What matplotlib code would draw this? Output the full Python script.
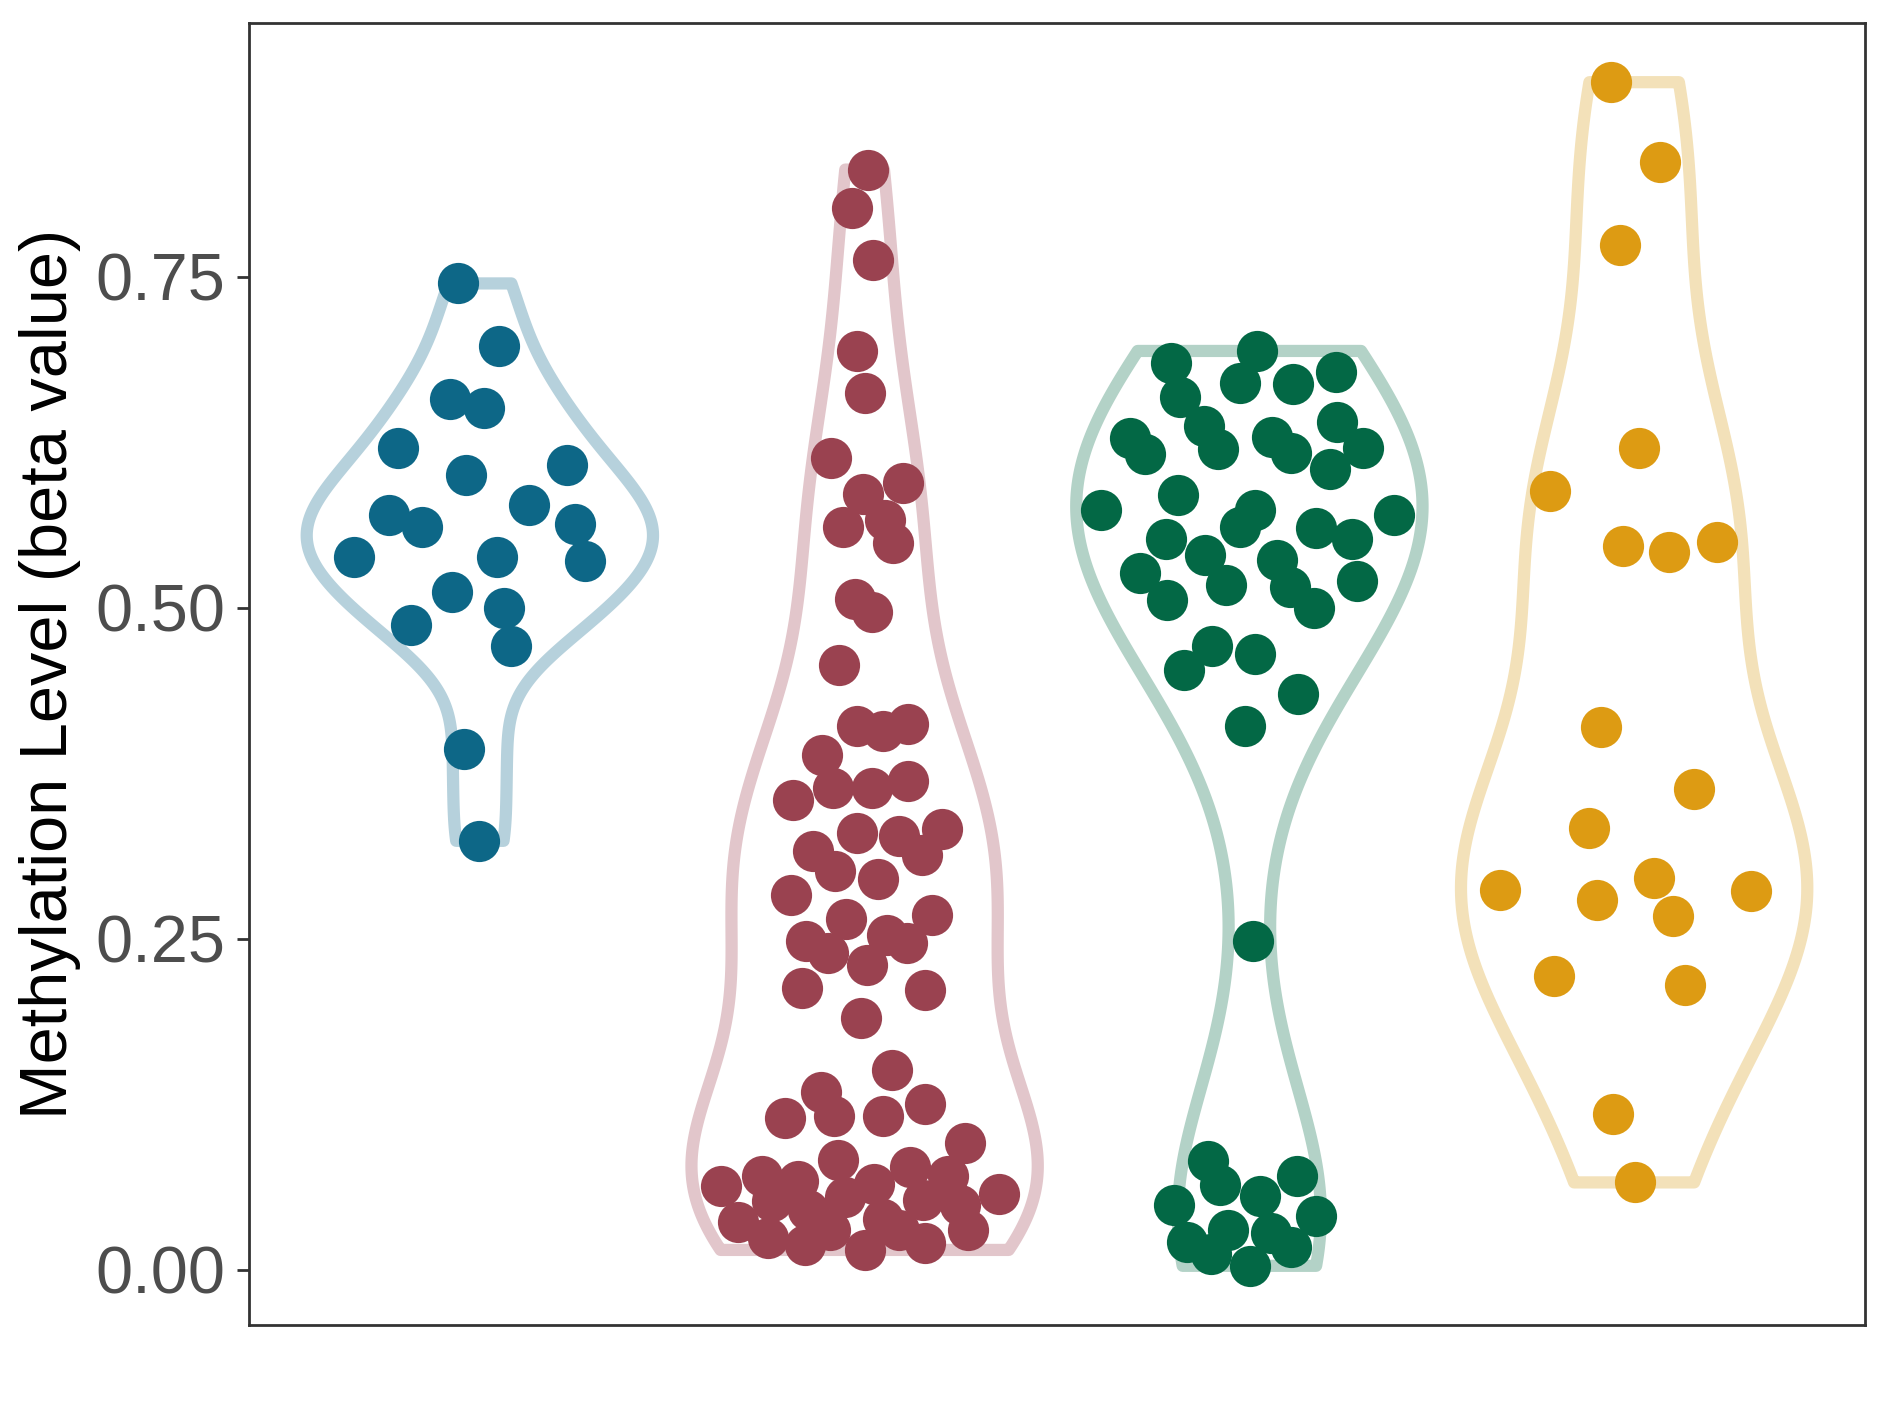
import numpy as np
import matplotlib
matplotlib.use("Agg")
import matplotlib.pyplot as plt

plt.rcParams['font.family'] = ['Liberation Sans', 'DejaVu Sans']

# ---- data (beta values) ----
group_positions = [1, 2, 3, 4]

blue_values = [0.745, 0.698, 0.658, 0.651, 0.621, 0.608, 0.600, 0.578, 0.570, 0.561,
               0.563, 0.538, 0.538, 0.535, 0.512, 0.500, 0.487, 0.471, 0.393, 0.324]
blue_jitter = [-0.057, 0.051, -0.078, 0.010, -0.212, 0.226, -0.036, 0.129, -0.236, -0.150,
               0.246, -0.326, 0.045, 0.272, -0.073, 0.064, -0.178, 0.081, -0.040, -0.001]

red_values = [0.831, 0.802, 0.763, 0.694, 0.662, 0.613, 0.594, 0.586, 0.561, 0.566,
              0.549, 0.507, 0.497, 0.457,
              0.411, 0.407, 0.412, 0.389, 0.364, 0.364, 0.369, 0.355, 0.330, 0.328,
              0.333, 0.316, 0.313, 0.301, 0.295, 0.283, 0.265, 0.268, 0.248, 0.239,
              0.253, 0.247, 0.230, 0.213, 0.211, 0.190, 0.151, 0.134, 0.115, 0.116,
              0.116, 0.125, 0.096, 0.083, 0.078, 0.071, 0.067, 0.065, 0.071, 0.063,
              0.057, 0.055, 0.052, 0.053, 0.049, 0.045, 0.036, 0.030, 0.038, 0.024,
              0.030, 0.030, 0.019, 0.015, 0.020]
red_jitter = [0.010, -0.033, 0.021, -0.021, 0.000, -0.087, 0.099, -0.004, -0.057, 0.052,
              0.075, -0.025, 0.018, -0.067,
              -0.021, 0.048, 0.113, -0.111, -0.081, 0.018, 0.113, -0.187, -0.021, 0.089,
              0.200, -0.135, 0.148, -0.078, 0.035, -0.192, -0.049, 0.175, -0.153, -0.095,
              0.058, 0.111, 0.006, -0.164, 0.156, -0.009, 0.072, -0.114, -0.208, -0.079,
              0.047, 0.156, 0.261, -0.068, 0.118, -0.266, -0.174, 0.025, 0.217, -0.373,
              0.350, -0.051, -0.242, 0.152, 0.248, -0.147, -0.330, -0.089, 0.047, -0.251,
              0.089, 0.269, -0.155, 0.000, 0.156]

green_values = [0.694, 0.685, 0.670, 0.669, 0.678, 0.659, 0.637, 0.640, 0.628, 0.629,
                0.616, 0.620, 0.617, 0.621, 0.605, 0.585, 0.574, 0.574, 0.561, 0.570,
                0.560, 0.552, 0.552, 0.540, 0.536, 0.526, 0.516, 0.517, 0.520, 0.506,
                0.500, 0.471, 0.453, 0.465, 0.435, 0.411,
                0.248, 0.082, 0.064, 0.071, 0.049, 0.056, 0.041, 0.030, 0.021, 0.028,
                0.017, 0.012, 0.003]
green_jitter = [0.020, -0.204, -0.024, 0.113, 0.226, -0.180, -0.119, 0.229, -0.310, 0.058,
                -0.272, -0.082, 0.108, 0.295, 0.209, -0.186, -0.386, 0.014, -0.024, 0.375,
                0.174, -0.217, 0.268, -0.116, 0.071, -0.284, 0.105, -0.062, 0.279, -0.214,
                0.168, -0.097, -0.170, 0.015, 0.126, -0.011,
                0.009, -0.107, -0.076, 0.124, -0.197, 0.028, 0.173, -0.056, -0.163, 0.057,
                0.108, -0.101, 0.002]

orange_values = [0.897, 0.837, 0.774, 0.621, 0.588, 0.547, 0.542, 0.550, 0.410, 0.363,
                 0.334, 0.287, 0.279, 0.296, 0.267, 0.286, 0.222, 0.215, 0.118, 0.066]
orange_jitter = [-0.061, 0.068, -0.038, 0.013, -0.218, -0.028, 0.091, 0.216, -0.086, 0.155,
                 -0.118, -0.348, -0.097, 0.052, 0.100, 0.303, -0.208, 0.133, -0.055, 0.003]

yticks = [0.00, 0.25, 0.50, 0.75]
ytick_labels = ["0.00", "0.25", "0.50", "0.75"]
ylabel = "Methylation Level (beta value)"

point_colors = ["#0D6787", "#9A4250", "#036845", "#DD9B13"]
violin_colors = ["#B6D1DC", "#E2C6CB", "#B3D2C7", "#F3E1B9"]

all_values = [blue_values, red_values, green_values, orange_values]
all_jitter = [blue_jitter, red_jitter, green_jitter, orange_jitter]


def nrd0_factor(kde):
    """Bandwidth like R's bw.nrd0, expressed as factor of the sample sd."""
    x = np.asarray(kde.dataset).ravel()
    n = x.size
    sd = np.std(x, ddof=1)
    q75, q25 = np.percentile(x, [75, 25])
    lo = min(sd, (q75 - q25) / 1.34)
    if lo <= 0:
        lo = sd
    bw = 0.9 * lo * n ** (-0.2)
    return bw / sd


W, H, DPI = 1889, 1417, 200
fig = plt.figure(figsize=(W / DPI, H / DPI), dpi=DPI)
ax = fig.add_axes([249 / W, 1 - 1325 / H, (1865 - 249) / W, (1325 - 23) / H])

parts = ax.violinplot([np.array(v) for v in all_values], positions=group_positions,
                      widths=0.9, showextrema=False, showmeans=False, showmedians=False,
                      points=512, bw_method=nrd0_factor)
for body, c in zip(parts['bodies'], violin_colors):
    body.set_alpha(1)
    body.set_facecolor('none')
    body.set_edgecolor(c)
    body.set_linewidth(4.4)
    body.set_joinstyle('round')
    body.set_capstyle('round')
    body.set_zorder(2)

for pos, vals, jit, c in zip(group_positions, all_values, all_jitter, point_colors):
    xs = pos + np.array(jit)
    ax.scatter(xs, vals, s=220, color=c, linewidths=0, zorder=3)

vmin = min(min(v) for v in all_values)
vmax = max(max(v) for v in all_values)
rng = vmax - vmin
ax.set_ylim(vmin - 0.05 * rng, vmax + 0.05 * rng)
ax.set_xlim(0.4, 4.6)

ax.set_yticks(yticks)
ax.set_yticklabels(ytick_labels)
ax.set_xticks([])
ax.tick_params(axis='y', length=4.4, width=1.0, color='#333333', labelsize=24,
               labelcolor='#4D4D4D', pad=4.2)
for sp in ax.spines.values():
    sp.set_color('#333333')
    sp.set_linewidth(1.0)

ax.set_ylabel(ylabel, fontsize=24, color='black', labelpad=5)

fig.savefig("out.png", dpi=DPI)
